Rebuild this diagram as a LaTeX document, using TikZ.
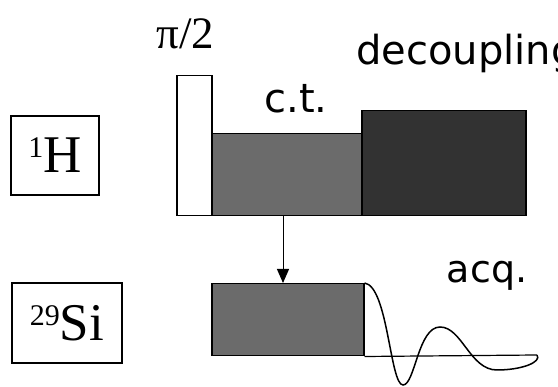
\documentclass[tikz,border=0pt]{standalone}
\usepackage{fontspec}
\setmainfont{Liberation Serif}
\newfontfamily\labelsans{DejaVu Sans}
\usetikzlibrary{arrows.meta}
\definecolor{ctgray}{HTML}{6B6B6B}
\definecolor{decgray}{HTML}{323232}
\tikzset{
  nucbox/.style={draw, line width=1.2pt, inner sep=0pt, font=\fontsize{53}{53}\selectfont},
  pulse/.style={draw, line width=1.5pt, inner sep=0pt, anchor=north west},
  sanslabel/.style={font=\labelsans\fontsize{40}{40}\selectfont, inner sep=0pt},
  seriflabel/.style={font=\fontsize{45}{45}\selectfont, inner sep=0pt},
  transfer/.style={line width=1pt, -{Triangle[length=14pt,width=12pt]}},
  signal/.style={line width=1.5pt}
}
\newcommand{\supnum}[1]{\raisebox{15pt}{\fontsize{30}{30}\selectfont #1}}
\begin{document}
\begin{tikzpicture}[x=1pt,y=-1pt]
\useasboundingbox (0,0) rectangle (558,387);

% nucleus labels
\node[nucbox, minimum width=88pt, minimum height=79pt] (H) at (55,155.5) {\supnum{1}H};
\node[nucbox, minimum width=110pt, minimum height=80pt] (Si) at (67,323) {\supnum{29}Si};

% 1H channel: pi/2 pulse, cross-polarisation contact, decoupling
\node[pulse, fill=white, minimum width=35pt, minimum height=140pt] (p90) at (176,75) {};
\node[pulse, fill=ctgray, minimum width=150pt, minimum height=82pt] (ct) at (211,133) {};
\node[pulse, fill=decgray, minimum width=164pt, minimum height=105pt] (dec) at (361,110) {};

% 29Si channel: contact pulse and acquisition
\node[pulse, fill=ctgray, minimum width=152pt, minimum height=72pt] (sict) at (211,283) {};
\coordinate (fidend) at (537,355);
\draw[line width=1.2pt] (sict.south east) -- (fidend);
\draw[signal] (sict.north east)
  .. controls (388,286) and (390,385) .. (403,385)
  .. controls (415,385) and (418,327) .. (440,327)
  .. controls (462,327) and (470,370) .. (497,370)
  .. controls (522,370) and (542,362) .. (fidend);

% polarisation transfer arrow
\coordinate (ax) at (283,0);
\draw[transfer] (ct.south -| ax) -- (sict.north -| ax);

% labels
\node[seriflabel, anchor=base] (l90) at (185.5,49) {π/2};
\node[sanslabel, anchor=base] (lct) at (296,113) {c.t.};
\node[sanslabel, anchor=base west] (ldec) at (356,65) {decoupling};
\node[sanslabel, font=\labelsans\fontsize{38}{38}\selectfont, anchor=base] (lacq) at (487,283) {acq.};
\end{tikzpicture}
\end{document}
